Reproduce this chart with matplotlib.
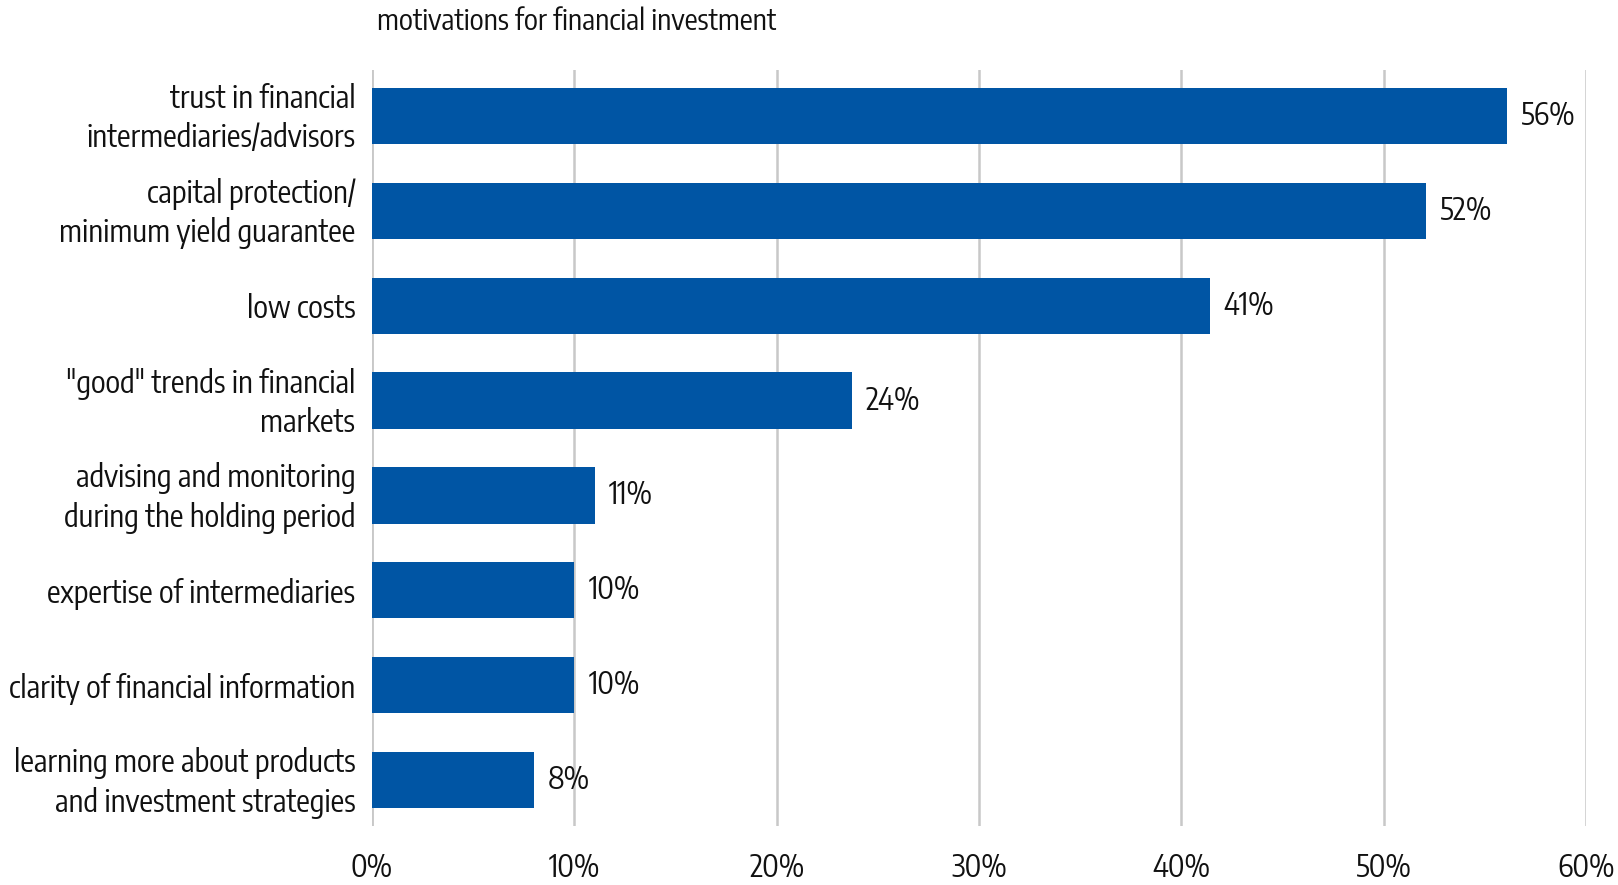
import matplotlib
matplotlib.use("Agg")
import matplotlib.pyplot as plt
from matplotlib import font_manager
from matplotlib.transforms import ScaledTranslation

categories = [
    "trust in financial\nintermediaries/advisors",
    "capital protection/\nminimum yield guarantee",
    "low costs",
    "\"good\" trends in financial\nmarkets",
    "advising and monitoring\nduring the holding period",
    "expertise of intermediaries",
    "clarity of financial information",
    "learning more about products\nand investment strategies",
]
values = [56.1, 52.1, 41.4, 23.7, 11.0, 10.0, 10.0, 8.0]
xticks = [0, 10, 20, 30, 40, 50, 60]
xtick_labels = ["0%", "10%", "20%", "30%", "40%", "50%", "60%"]
title = "motivations for financial investment"

available = {f.name for f in font_manager.fontManager.ttflist}
family = next((f for f in ["Encode Sans Condensed", "PT Sans Narrow", "Barlow Condensed"]
               if f in available), "DejaVu Sans")
plt.rcParams["font.family"] = [family, "DejaVu Sans"]

W, H, DPI = 1618, 885, 100
FS = 22
fig = plt.figure(figsize=(W / DPI, H / DPI), dpi=DPI)
ax = fig.add_axes([372 / W, 1 - 826 / H, (1586 - 372) / W, (826 - 70) / H])

bar_color = "#0055A4"
text_color = "#111111"
y = list(range(len(categories)))
ax.barh(y, values, height=0.59, color=bar_color, zorder=3)
ax.set_ylim(len(categories) - 0.52, -0.48)
ax.set_xlim(0, 60)

ax.set_xticks(xticks)
ax.set_xticklabels(xtick_labels)
ax.set_yticks(y)
ax.set_yticklabels(categories, linespacing=1.3)
ax.tick_params(axis="both", length=0, labelsize=FS, colors=text_color)
ax.tick_params(axis="x", pad=19)
ax.tick_params(axis="y", pad=12)

# nudge two-line category labels up so the text block sits centred on its bar
lift = ScaledTranslation(0, 0.045, fig.dpi_scale_trans)
for lab in ax.get_yticklabels():
    if "\n" in lab.get_text():
        lab.set_transform(lab.get_transform() + lift)

ax.grid(axis="x", color="#c8c8c8", linewidth=1.8, zorder=0)
ax.axvline(0, color="#c8c8c8", linewidth=1.8, zorder=1)
for s in ax.spines.values():
    s.set_visible(False)

for yi, v in zip(y, values):
    ax.text(v + 0.7, yi, f"{v:.0f}%", va="center", ha="left", fontsize=FS,
            color=text_color, zorder=4)

fig.text(377 / W, 1 - 21 / H, title, ha="left", va="center", fontsize=21,
         color=text_color)

fig.savefig("out.png", dpi=DPI)
